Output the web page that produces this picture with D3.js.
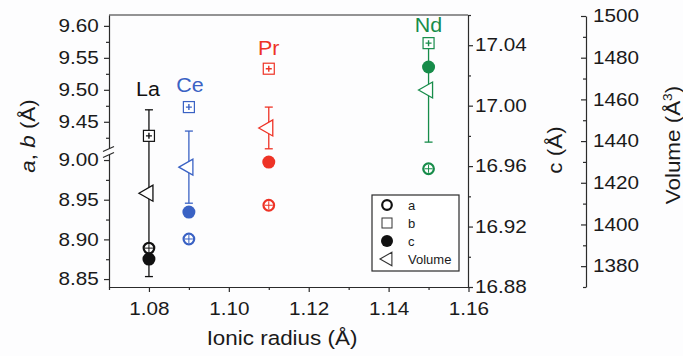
<!DOCTYPE html>
<html lang="en">
<head>
<meta charset="UTF-8">
<title>Lattice parameters vs ionic radius</title>
<script src="https://d3js.org/d3.v7.min.js"></script>
<style>
    body { margin: 0; background: #fdfdfe; }
    svg { font-family: "Liberation Sans", Arial, sans-serif; }
    .axis path, .axis line { stroke: #2b2b2b; stroke-width: 1.2; }
    .axis text { font-size: 18px; fill: #1a1a1a; }
</style>
</head>
<body>
<svg id="chart" width="683" height="356"></svg>
<script>
// data
const elements = ["La", "Ce", "Pr", "Nd"];
const radius   = [1.08, 1.09, 1.11, 1.15];
const aVals    = [8.889, 8.9005, 8.943, 8.989];
const bVals    = [9.428, 9.473, 9.533, 9.573];
const cVals    = [16.8985, 16.9296, 16.9627, 17.0256];
const volVals  = [1415, 1427.5, 1446.3, 1464.5];
const volErr   = [40, 17.3, 10, 25];
const colors   = ["#111111", "#3a62c4", "#ee3326", "#178c4a"];
const elemLabelY = [9.49, 9.497, 9.555, 17.049]; // where the element names sit (a,b scale for first 3, c scale for Nd)

const xMajor = [1.08, 1.10, 1.12, 1.14, 1.16];
const xMinor = [1.07, 1.09, 1.11, 1.13, 1.15];
const abUpMajor = [9.45, 9.50, 9.55, 9.60];
const abUpMinor = [9.425, 9.475, 9.525, 9.575];
const abLoMajor = [8.85, 8.90, 8.95, 9.00];
const abLoMinor = [8.875, 8.925, 8.975];
const cMajor = [16.88, 16.92, 16.96, 17.00, 17.04];
const cMinor = [16.90, 16.94, 16.98, 17.02, 17.06];
const vMajor = [1380, 1400, 1420, 1440, 1460, 1480, 1500];
const vMinor = [1370, 1390, 1410, 1430, 1450, 1470, 1490];
const legendItems = ["a", "b", "c", "Volume"];

const svg = d3.select("#chart");
const L = 109, R = 468, T = 15, B = 287;
const SX = 1.15; // the original font is a bit wider than Arial

const x = d3.scaleLinear().domain([1.07, 1.16]).range([L, R + 0.5]);
const yUp = d3.scaleLinear().domain([9.409, 9.617]).range([148, T]);
const yLo = d3.scaleLinear().domain([8.84, 9.0076]).range([B, 154]);
const yC = d3.scaleLinear().domain([16.88, 17.06]).range([B, T]);
const yV = d3.scaleLinear().domain([1370, 1500]).range([B, 16]);

function stretch(sel) {
    sel.selectAll("text").attr("transform", `scale(${SX},1)`);
}

// x axis
svg.append("g").attr("class", "axis").attr("transform", `translate(0,${B})`)
    .call(d3.axisBottom(x).tickValues(xMajor).tickSize(5).tickSizeOuter(0).tickPadding(10).tickFormat(d3.format(".2f")))
    .call(stretch);
svg.append("g").attr("class", "axis").attr("transform", `translate(0,${B})`)
    .call(d3.axisBottom(x).tickValues(xMinor).tickSize(3).tickSizeOuter(0).tickFormat(""))
    .select(".domain").remove();

// top frame
svg.append("line").attr("x1", L).attr("x2", R).attr("y1", T).attr("y2", T)
    .attr("stroke", "#2b2b2b").attr("stroke-width", 1.2);

// left a,b axis with break
[[yUp, abUpMajor, abUpMinor], [yLo, abLoMajor, abLoMinor]].forEach(([sc, maj, min]) => {
    svg.append("g").attr("class", "axis").attr("transform", `translate(${L},0)`)
        .call(d3.axisLeft(sc).tickValues(maj).tickSize(5).tickSizeOuter(0).tickPadding(4).tickFormat(d3.format(".2f")))
        .call(stretch);
    svg.append("g").attr("class", "axis").attr("transform", `translate(${L},0)`)
        .call(d3.axisLeft(sc).tickValues(min).tickSize(3).tickSizeOuter(0).tickFormat(""))
        .select(".domain").remove();
});
// break marks
[149, 155].forEach(yy => {
    svg.append("line").attr("x1", L - 6).attr("x2", L + 5).attr("y1", yy + 2.5).attr("y2", yy - 2.5)
        .attr("stroke", "#2b2b2b").attr("stroke-width", 1.2);
});

// c axis (right frame)
svg.append("g").attr("class", "axis").attr("transform", `translate(${R},0)`)
    .call(d3.axisRight(yC).tickValues(cMajor).tickSize(5).tickSizeOuter(0).tickPadding(1.2).tickFormat(d3.format(".2f")))
    .call(stretch);
svg.append("g").attr("class", "axis").attr("transform", `translate(${R},0)`)
    .call(d3.axisRight(yC).tickValues(cMinor).tickSize(3).tickSizeOuter(0).tickFormat(""))
    .select(".domain").remove();

// volume axis, ticks pointing left
svg.append("g").attr("class", "axis").attr("transform", "translate(586,0)")
    .call(d3.axisRight(yV).tickValues(vMajor).tickSizeInner(-5).tickSizeOuter(0).tickPadding(6).tickFormat(d3.format("d")))
    .call(stretch);
svg.append("g").attr("class", "axis").attr("transform", "translate(586,0)")
    .call(d3.axisRight(yV).tickValues(vMinor).tickSizeInner(-3).tickSizeOuter(0).tickFormat(""))
    .select(".domain").remove();

// axis titles
function title(xx, yy, rot) {
    return svg.append("text")
        .attr("transform", `translate(${xx},${yy}) rotate(${rot}) scale(${SX},1)`)
        .attr("text-anchor", "middle").attr("font-size", 19.5).attr("fill", "#1a1a1a");
}
title(282, 345, 0).text("Ionic radius (Å)");
const tab = title(35, 136, -90);
tab.append("tspan").attr("font-style", "italic").text("a");
tab.append("tspan").text(", ");
tab.append("tspan").attr("font-style", "italic").text("b");
tab.append("tspan").text(" (Å)");
title(562, 150, -90).text("c (Å)");
const tv = title(680, 145, -90);
tv.append("tspan").text("Volume (Å");
tv.append("tspan").attr("font-size", 12).attr("dy", -8).text("3");
tv.append("tspan").attr("dy", 8).text(")");

// markers
function triPath(s) { return `M${-10 * s},0L${4 * s},${-8 * s}L${4 * s},${8 * s}Z`; }

elements.forEach((el, i) => {
    const cx = x(radius[i]);
    const col = colors[i];
    const g = svg.append("g");

    // volume error bar
    const y0 = yV(volVals[i] - volErr[i]), y1 = yV(volVals[i] + volErr[i]);
    g.append("line").attr("x1", cx).attr("x2", cx).attr("y1", y0).attr("y2", y1)
        .attr("stroke", col).attr("stroke-width", 1.3);
    [y0, y1].forEach(yy => g.append("line").attr("x1", cx - 4).attr("x2", cx + 4)
        .attr("y1", yy).attr("y2", yy).attr("stroke", col).attr("stroke-width", 1.3));

    // a: open circle with cross
    const ya = yLo(aVals[i]);
    g.append("circle").attr("cx", cx).attr("cy", ya).attr("r", 5.3)
        .attr("fill", "#fff").attr("stroke", col).attr("stroke-width", 2.2);
    g.append("path").attr("d", `M${cx - 4},${ya}H${cx + 4}M${cx},${ya - 4}V${ya + 4}`)
        .attr("stroke", col).attr("stroke-width", 1);

    // c: filled circle
    g.append("circle").attr("cx", cx).attr("cy", yC(cVals[i])).attr("r", 6.5).attr("fill", col);

    // b: open square with plus
    const yb = yUp(bVals[i]);
    g.append("rect").attr("x", cx - 5.5).attr("y", yb - 5.5).attr("width", 11).attr("height", 11)
        .attr("fill", "#fff").attr("stroke", col).attr("stroke-width", 1.2);
    g.append("path").attr("d", `M${cx - 3},${yb}H${cx + 3}M${cx},${yb - 3}V${yb + 3}`)
        .attr("stroke", col).attr("stroke-width", 1.4);

    // volume triangle
    g.append("path").attr("d", triPath(1)).attr("transform", `translate(${cx},${yV(volVals[i])})`)
        .attr("fill", "#fff").attr("stroke", col).attr("stroke-width", 1.3);

    // element name
    const ly = i < 3 ? yUp(elemLabelY[i]) : yC(elemLabelY[i]);
    svg.append("text").attr("transform", `translate(${cx - (i === 0 ? 1 : (i === 1 ? -1 : 0))},${ly}) scale(1.1,1)`)
        .attr("text-anchor", "middle").attr("font-size", 19.5).attr("fill", col).text(el);
});

// legend
const lg = svg.append("g").attr("transform", "translate(372,195)");
lg.append("rect").attr("width", 87).attr("height", 76).attr("fill", "#fff")
    .attr("stroke", "#2b2b2b").attr("stroke-width", 1.2);
legendItems.forEach((name, i) => {
    const yy = 10 + i * 18;
    const mx = 15;
    if (i === 0) lg.append("circle").attr("cx", mx).attr("cy", yy).attr("r", 4.8)
        .attr("fill", "none").attr("stroke", "#111").attr("stroke-width", 2.2);
    if (i === 1) lg.append("rect").attr("x", mx - 5).attr("y", yy - 5).attr("width", 10).attr("height", 10)
        .attr("fill", "none").attr("stroke", "#333").attr("stroke-width", 1);
    if (i === 2) lg.append("circle").attr("cx", mx).attr("cy", yy).attr("r", 6).attr("fill", "#111");
    if (i === 3) lg.append("path").attr("d", triPath(0.85)).attr("transform", `translate(${mx + 1.5},${yy})`)
        .attr("fill", "none").attr("stroke", "#333").attr("stroke-width", 1.1);
    lg.append("text").attr("x", 36).attr("y", yy).attr("dy", "0.35em")
        .attr("font-size", 13).attr("fill", "#1a1a1a").text(name);
});
</script>
</body>
</html>
